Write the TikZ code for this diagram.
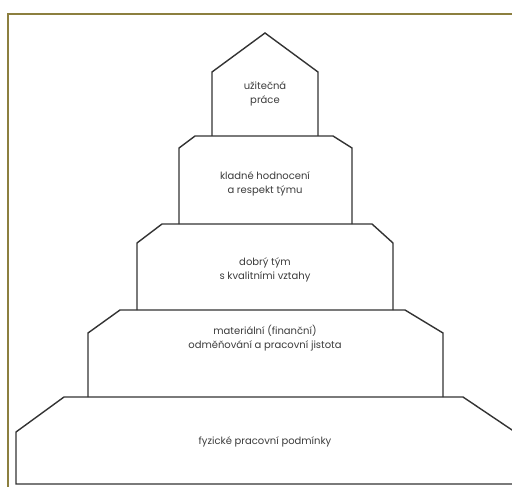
\documentclass[tikz,border=0pt]{standalone}
\usepackage{fontspec}
\setmainfont{Poppins}
\definecolor{frameol}{HTML}{8C7F3F}
\definecolor{ink}{HTML}{333333}
\definecolor{txt}{HTML}{3C3C3C}
\begin{document}
\begin{tikzpicture}[x=1pt,y=-1pt,
  level/.style={draw=ink,line width=1.4pt,line join=miter},
  lab/.style={text=txt,font=\fontsize{10}{14.5}\selectfont,align=center,inner sep=0pt}]
\useasboundingbox (0,0) rectangle (512,487);
\fill[white] (0,0) rectangle (512,487);
% frame
\draw[frameol,line width=2pt] (8,487) -- (8,14) -- (512,14);
% levels (bottom to top)
\draw[level] (16,484) -- (16,432) -- (64,397) -- (463,397) -- (515,432) -- (515,484) -- cycle;
\draw[level] (88,397) -- (88,333) -- (120,310) -- (405,310) -- (443,333) -- (443,397);
\draw[level] (137,310) -- (137,243) -- (162,224) -- (372,224) -- (393,243) -- (393,310);
\draw[level] (179,224) -- (179,148) -- (195,136) -- (333,136) -- (352,148) -- (352,224);
\draw[level] (212,136) -- (212,72) -- (265,33) -- (318,72) -- (318,136);
% labels
\node[lab] (l1) at (265,94) {užitečná\\práce};
\node[lab] (l2) at (265,184) {kladné hodnocení\\a respekt týmu};
\node[lab] (l3) at (265,270) {dobrý tým\\s kvalitními vztahy};
\node[lab] (l4) at (265,338) {materiální (finanční)\\odměňování a pracovní jistota};
\node[lab] (l5) at (265,442) {fyzické pracovní podmínky};
\end{tikzpicture}
\end{document}
